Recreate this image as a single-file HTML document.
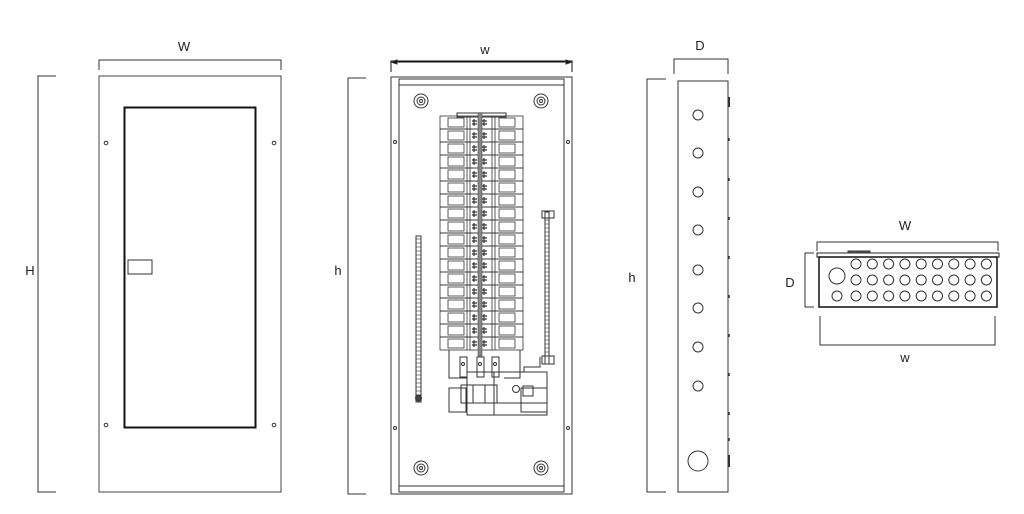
<!DOCTYPE html>
<html><head><meta charset="utf-8"><style>
html,body{margin:0;padding:0;background:#fff;width:1024px;height:514px;overflow:hidden}
svg{display:block}
text{font-family:"Liberation Sans",sans-serif;font-size:13px;fill:#222}
</style></head><body>
<svg id="s" width="1024" height="514" viewBox="0 0 1024 514" fill="none" stroke="#333" stroke-width="1">
<!-- Front view -->
<text x="184" y="51" text-anchor="middle" stroke="none">W</text>
<path d="M99 70V60H281V70"/>
<text x="30" y="275" text-anchor="middle" stroke="none">H</text>
<path d="M56 76H38V492H56"/>
<rect x="99" y="76" width="182" height="416" stroke="#444"/>
<rect x="124.5" y="107.5" width="131" height="320" stroke="#111" stroke-width="2"/>
<rect x="128" y="260" width="24" height="14"/>
<circle cx="106" cy="143" r="1.8"/><circle cx="274" cy="143" r="1.8"/>
<circle cx="106" cy="425" r="1.8"/><circle cx="274" cy="425" r="1.8"/>
<!-- Middle view -->
<text x="485" y="54" text-anchor="middle" stroke="none">w</text>
<path d="M391 72V61H572V72M394 62H569" stroke="#111"/>
<path d="M391 62l6 -2v4zM572 62l-6 -2v4z" fill="#111"/>
<text x="338" y="275" text-anchor="middle" stroke="none">h</text>
<path d="M366 78H348V494H366"/>
<rect x="391" y="77" width="181" height="417"/>
<rect x="399" y="79" width="165" height="413"/>
<path d="M399 85H564M399 486H564"/>
<circle cx="395" cy="142" r="1.5"/><circle cx="568" cy="142" r="1.5"/>
<circle cx="395" cy="428" r="1.5"/><circle cx="568" cy="428" r="1.5"/>
<g id="mid"></g>
<!-- Side view -->
<text x="700" y="50" text-anchor="middle" stroke="none">D</text>
<path d="M674 74V59H728V74"/>
<text x="632" y="282" text-anchor="middle" stroke="none">h</text>
<path d="M666 79H647V492H666"/>
<rect x="678" y="81" width="50" height="411"/>
<g id="side"></g>
<circle cx="698" cy="461" r="10"/>
<!-- Right view -->
<text x="905" y="230" text-anchor="middle" stroke="none">W</text>
<path d="M817 251V242H998V251"/>
<rect x="817" y="253" width="182" height="4" stroke="#222"/>
<rect x="848" y="251" width="22" height="2" fill="#555"/>
<rect x="819" y="257" width="178" height="50" stroke="#111" stroke-width="1.5"/>
<text x="790" y="287" text-anchor="middle" stroke="none">D</text>
<path d="M814 253H805V307H814"/>
<path d="M820 316V345H995V316"/>
<text x="905" y="362" text-anchor="middle" stroke="none">w</text>
<circle cx="837" cy="276" r="8"/>
<circle cx="837" cy="296" r="5"/>
<g id="right"></g>
</svg>
<script>
var NS="http://www.w3.org/2000/svg";
function el(p,t,a){var e=document.createElementNS(NS,t);for(var k in a)e.setAttribute(k,a[k]);document.getElementById(p).appendChild(e);}
[[421,101],[541,101],[421,468],[541,468]].forEach(function(c){el('mid','circle',{cx:c[0],cy:c[1],r:7});el('mid','circle',{cx:c[0],cy:c[1],r:4});el('mid','circle',{cx:c[0],cy:c[1],r:1.5});});
// breaker stack
el('mid','rect',{x:457,y:113,width:49,height:4});
for(var i=0;i<18;i++){var y=116+i*13;
 el('mid','rect',{x:440,y:y,width:83,height:13,'stroke-width':0.8});
 el('mid','rect',{x:448,y:y+2,width:16,height:9,'stroke-width':0.8});
 el('mid','rect',{x:499,y:y+2,width:16,height:9,'stroke-width':0.8});
 el('mid','path',{d:'M467 '+y+'V'+(y+13)+'M470 '+y+'V'+(y+13)+'M492 '+y+'V'+(y+13)+'M495 '+y+'V'+(y+13),'stroke-width':0.8});
 el('mid','path',{d:'M472 '+(y+5)+'H477M472 '+(y+8)+'H477M482 '+(y+5)+'H487M482 '+(y+8)+'H487M474 '+(y+3)+'V'+(y+10)+'M484 '+(y+3)+'V'+(y+10),'stroke-width':1.2});
}
el('mid','rect',{x:478,y:113,width:4,height:243,fill:'#888','stroke-width':0.5});
el('mid','path',{d:'M449 350V378H467M520 350V378H504'});
[463,480,495].forEach(function(x){el('mid','rect',{x:x-3,y:357,width:7,height:20});el('mid','circle',{cx:x,cy:364,r:1.5});});
el('mid','rect',{x:467,y:372,width:80,height:43});
el('mid','path',{d:'M494 372V415M467 403H547'});
el('mid','path',{d:'M449 388H466V412H449z M521 388H547V412H521z'});
el('mid','rect',{x:461,y:385,width:36,height:18});
el('mid','path',{d:'M473 385V403M485 385V403'});
el('mid','circle',{cx:516,cy:389,r:3.5});
el('mid','rect',{x:523,y:386,width:10,height:10});
el('mid','path',{d:'M524 372V367H540V357'});
// left neutral bar
el('mid','rect',{x:416,y:236,width:5,height:166});
for(var y=239;y<398;y+=4)el('mid','path',{d:'M416 '+y+'H421','stroke-width':0.6});
el('mid','circle',{cx:418.5,cy:398,r:3,fill:'#444'});
// right ground bar
el('mid','rect',{x:545,y:212,width:4,height:152});
for(var y=220;y<360;y+=4)el('mid','path',{d:'M545 '+y+'H549','stroke-width':0.6});
el('mid','rect',{x:542,y:211,width:12,height:7});
el('mid','rect',{x:542,y:356,width:12,height:8});
// side circles
[115,153,192,230,270,308,347,386].forEach(function(y){el('side','circle',{cx:698,cy:y,r:5});});
[138,178,217,256,295,334,373,412,438].forEach(function(y){el('side','path',{d:'M729 '+y+'v3','stroke-width':1.5});});
el('side','path',{d:'M729 97v10M729 455v12','stroke-width':2});
// right circles
for(var c=0;c<9;c++){var x=856+c*16.3;[264,280,296].forEach(function(y){el('right','circle',{cx:x,cy:y,r:5});});}
</script>
</body></html>
